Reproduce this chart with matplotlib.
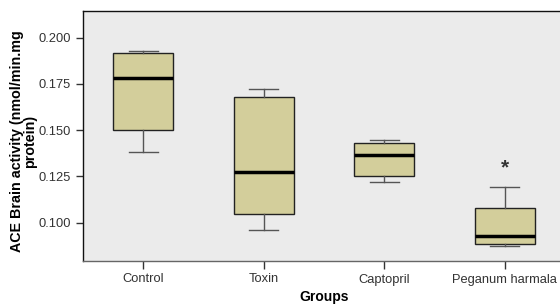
import matplotlib
matplotlib.use("Agg")
import matplotlib.pyplot as plt

groups = ["Control", "Toxin", "Captopril", "Peganum harmala"]
whislo = [0.1382, 0.0961, 0.1221, 0.0873]
q1 = [0.1502, 0.1048, 0.1255, 0.0885]
med = [0.1782, 0.1275, 0.1364, 0.0927]
q3 = [0.1917, 0.1681, 0.1429, 0.1080]
whishi = [0.1928, 0.1722, 0.1446, 0.1194]
star_group = 3
star_y = 0.1297

yticks = [0.100, 0.125, 0.150, 0.175, 0.200]

plt.rcParams['font.family'] = ['Liberation Sans', 'DejaVu Sans']

fig = plt.figure(figsize=(5.6, 3.04), dpi=100)
ax = fig.add_axes([83/560, 43/304, 482/560, 250/304])
ax.set_facecolor('#ebebeb')

stats = []
for i, g in enumerate(groups):
    stats.append(dict(label=g, whislo=whislo[i], q1=q1[i], med=med[i],
                      q3=q3[i], whishi=whishi[i], fliers=[]))

ax.bxp(stats, positions=range(1, len(groups) + 1), widths=0.5,
       patch_artist=True, showfliers=False,
       boxprops=dict(facecolor='#d3ce9b', edgecolor='#222222', linewidth=1.0),
       medianprops=dict(color='black', linewidth=2.5),
       whiskerprops=dict(color='#555555', linewidth=1.0),
       capprops=dict(color='#555555', linewidth=1.0),
       capwidths=0.24)

ax.text(star_group + 1, star_y, '*', ha='center', va='center',
        fontsize=15, fontweight='bold', color='#333333')

ax.set_xlim(0.5, 4.5)
ax.set_ylim(0.0793, 0.2144)
ax.set_yticks(yticks)
ax.set_yticklabels([f"{t:.3f}" for t in yticks])
ax.tick_params(axis='both', labelsize=9.3, colors='#333333', length=5, width=1)
ax.tick_params(axis='x', length=6, pad=3)

for s in ['top', 'left']:
    ax.spines[s].set_color('#111111')
ax.spines['bottom'].set_color('#666666')
ax.spines['right'].set_visible(False)
for s in ax.spines.values():
    s.set_linewidth(1.0)

ax.set_xlabel('Groups', fontsize=10, fontweight='bold', labelpad=3)
ax.set_ylabel('ACE Brain activity (nmol/min.mg\nprotein)', fontsize=10.3,
              fontweight='bold', linespacing=0.9)
ax.yaxis.set_label_coords(-0.095, 0.48)

fig.savefig('out.png', dpi=100)
